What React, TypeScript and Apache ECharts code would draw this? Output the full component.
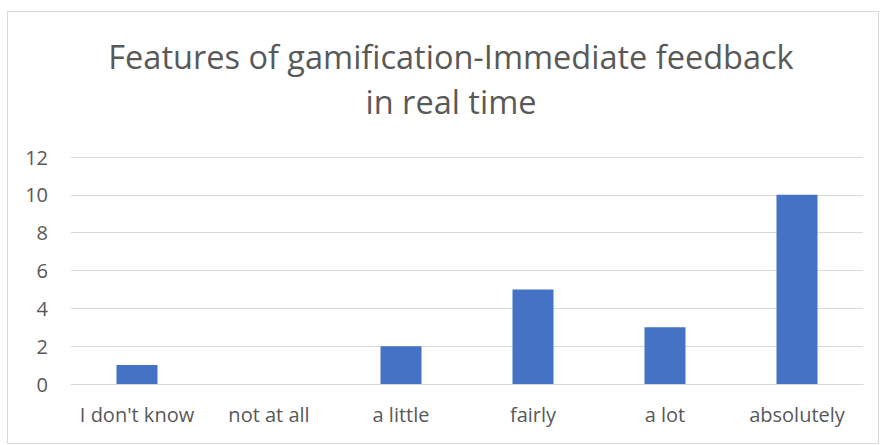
import React, { useEffect, useRef } from "react";
import * as echarts from "echarts";

const categories = ["I don't know", "not at all", "a little", "fairly", "a lot", "absolutely"];
const values = [1, 0, 2, 5, 3, 10];
const titleLines = ["Features of gamification-Immediate feedback", "in real time"];

export default function App() {
  const ref = useRef<HTMLDivElement>(null);
  useEffect(() => {
    if (!ref.current) return;
    const chart = echarts.init(ref.current, null, { renderer: "svg" });
    const font = "'Open Sans', sans-serif";
    chart.setOption({
      animation: false,
      backgroundColor: "#ffffff",
      title: {
        text: titleLines.join("\n"),
        left: 446,
        top: 29,
        textAlign: "center",
        textStyle: {
          fontFamily: font,
          fontSize: 32.5,
          fontWeight: "normal",
          color: "#595959",
          lineHeight: 45,
        },
      },
      grid: { left: 71, right: 17, top: 157, bottom: 61 },
      xAxis: {
        type: "category",
        data: categories,
        axisLine: { lineStyle: { color: "#d9d9d9", width: 1 } },
        axisTick: { show: false },
        axisLabel: { interval: 0, fontFamily: font, fontSize: 20, color: "#595959", margin: 20 },
      },
      yAxis: {
        type: "value",
        min: 0,
        max: 12,
        interval: 2,
        axisLine: { show: false },
        axisTick: { show: false },
        splitLine: { lineStyle: { color: "#d9d9d9", width: 1 } },
        axisLabel: { fontFamily: font, fontSize: 20, color: "#595959", margin: 23 },
      },
      series: [
        {
          type: "bar",
          data: values,
          barWidth: 41,
          itemStyle: { color: "#4472C4" },
        },
      ],
    });
    return () => chart.dispose();
  }, []);
  return (
    <div style={{ position: "absolute", left: 0, top: 0, width: 880, height: 445, background: "#fff" }}>
      <div ref={ref} style={{ position: "absolute", left: 0, top: 0, width: 880, height: 445 }} />
      <div
        style={{
          position: "absolute",
          left: 7,
          top: 11,
          width: 870,
          height: 431,
          border: "1px solid #d9d9d9",
          pointerEvents: "none",
        }}
      />
    </div>
  );
}
